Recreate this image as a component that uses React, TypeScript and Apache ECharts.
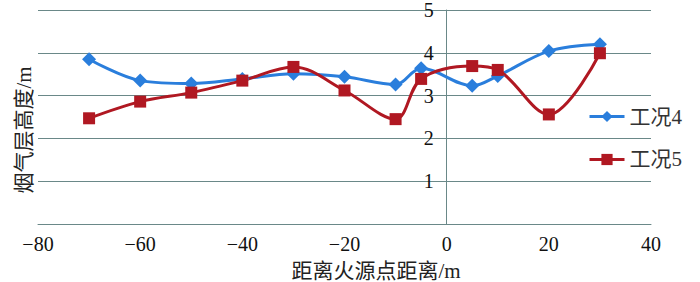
import React, { useEffect, useRef } from "react";
import * as echarts from "echarts";

const distances = [-70, -60, -50, -40, -30, -20, -10, -5, 5, 10, 20, 30];
const case4 = [3.85, 3.35, 3.28, 3.39, 3.51, 3.44, 3.26, 3.64, 3.23, 3.46, 4.04, 4.2];
const case5 = [2.47, 2.86, 3.07, 3.35, 3.67, 3.12, 2.45, 3.39, 3.69, 3.6, 2.56, 3.99];
const seriesNames = ["工况4", "工况5"];
const xTitle = "距离火源点距离/m";
const yTitle = "烟气层高度/m";

const FONT = "'Liberation Serif', 'Noto Sans CJK SC', serif";
const AXIS_COLOR = "#6a8888";
const GRID_LEFT = 38;
const GRID_RIGHT = 49;
const X_MIN = -80;
const X_MAX = 40;

export default function App() {
  const ref = useRef<HTMLDivElement>(null);
  useEffect(() => {
    if (!ref.current) return;
    const chart = echarts.init(ref.current, undefined, { renderer: "svg" });
    const gridWidth = 700 - GRID_LEFT - GRID_RIGHT;
    const zeroOffset = ((0 - X_MIN) / (X_MAX - X_MIN)) * gridWidth;
    chart.setOption({
      animation: false,
      backgroundColor: "#ffffff",
      grid: { left: GRID_LEFT, right: GRID_RIGHT, top: 7, bottom: 58 },
      legend: {
        orient: "vertical",
        left: 583,
        top: 101,
        itemWidth: 35,
        itemHeight: 14,
        itemGap: 22,
        lineStyle: { width: 3 },
        textStyle: { fontFamily: FONT, fontSize: 21, color: "#333" },
        data: seriesNames,
      },
      xAxis: {
        type: "value",
        min: X_MIN,
        max: X_MAX,
        interval: 20,
        axisLine: { show: true, onZero: false, lineStyle: { color: AXIS_COLOR, width: 1 } },
        axisTick: { show: false },
        splitLine: { show: false },
        axisLabel: {
          fontFamily: FONT,
          fontSize: 20,
          color: "#111",
          margin: 10,
          formatter: (v: number) => String(v).replace("-", "\u2212"),
        },
      },
      yAxis: {
        type: "value",
        min: 0,
        max: 5,
        interval: 1,
        position: "left",
        offset: -zeroOffset,
        axisLine: { show: true, onZero: false, lineStyle: { color: AXIS_COLOR, width: 1 } },
        axisTick: { show: false },
        splitLine: { show: true, lineStyle: { color: AXIS_COLOR, width: 1 } },
        axisLabel: {
          fontFamily: FONT,
          fontSize: 20,
          color: "#111",
          margin: 13,
          showMinLabel: true,
          showMaxLabel: true,
          formatter: (v: number) => (v === 0 ? "" : String(v)),
        },
      },
      graphic: [
        {
          type: "text",
          x: 24,
          y: 130,
          rotation: Math.PI / 2,
          style: {
            text: yTitle,
            fontFamily: FONT,
            fontSize: 21,
            fill: "#222",
            align: "center",
            verticalAlign: "middle",
          },
        },
        {
          type: "text",
          x: 376,
          y: 271,
          style: {
            text: xTitle,
            fontFamily: FONT,
            fontSize: 21,
            fill: "#222",
            align: "center",
            verticalAlign: "middle",
          },
        },
      ],
      series: [
        {
          name: seriesNames[0],
          type: "line",
          smooth: 0.35,
          data: distances.map((d, i) => [d, case4[i]]),
          symbol: "diamond",
          symbolSize: 14,
          itemStyle: { color: "#2a7edc" },
          lineStyle: { color: "#2a7edc", width: 3 },
        },
        {
          name: seriesNames[1],
          type: "line",
          smooth: 0.35,
          data: distances.map((d, i) => [d, case5[i]]),
          symbol: "rect",
          symbolSize: 12,
          itemStyle: { color: "#b01822" },
          lineStyle: { color: "#b01822", width: 3 },
        },
      ],
    });
    return () => chart.dispose();
  }, []);
  return <div ref={ref} style={{ width: 700, height: 282, position: "absolute", left: 0, top: 0 }} />;
}
